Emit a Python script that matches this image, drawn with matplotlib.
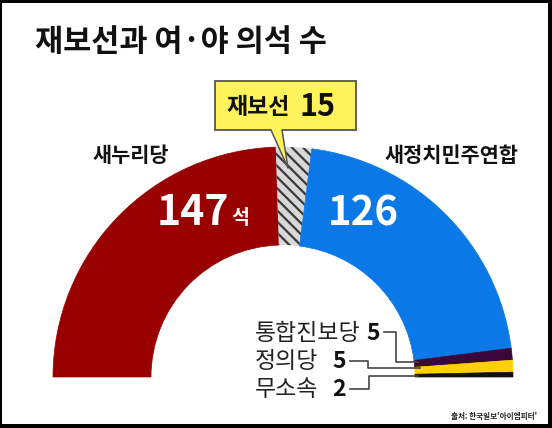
import matplotlib.pyplot as plt
from matplotlib.patches import Wedge, Rectangle, Polygon
import matplotlib as mpl

plt.rcParams['font.family'] = ['Noto Sans CJK KR', 'DejaVu Sans']
mpl.rcParams['hatch.linewidth'] = 1.6
mpl.rcParams['hatch.color'] = '#3a3a3a'

# data
parties = ["새누리당", "재보선", "새정치민주연합", "통합진보당", "정의당", "무소속"]
seats = [147, 15, 126, 5, 5, 2]
colors = ["#990000", "#d8d8d8", "#0a78e6", "#3a0838", "#ffd000", "#111111"]

W, H = 552, 428
fig = plt.figure(figsize=(W / 100, H / 100), dpi=100, facecolor="black")
ax = fig.add_axes([0, 0, 1, 1])
ax.set_xlim(0, W)
ax.set_ylim(0, H)
ax.axis("off")

def Y(y):
    # image row -> data y
    return H - y

ax.add_patch(Rectangle((2, Y(424)), 546, 421, facecolor="white", edgecolor="none"))

# half donut
cx, cy = 283, Y(377)
R, width = 230, 98
total = sum(seats)
start = 180.0
for name, s, c in zip(parties, seats, colors):
    span = 180.0 * s / total
    if name == "재보선":
        w = Wedge((cx, cy), R, start - span, start, width=width,
                  facecolor=c, edgecolor="#3a3a3a", hatch="\\\\\\", linewidth=0)
    else:
        w = Wedge((cx, cy), R, start - span, start, width=width,
                  facecolor=c, edgecolor=c, linewidth=0.5)
    ax.add_patch(w)
    start -= span

# title
ax.text(35, Y(42), "재보선과 여·야 의석 수", fontsize=22, fontweight="heavy",
        ha="left", va="center", color="#111111")

# callout box
ax.add_patch(Rectangle((215, Y(130)), 141, 49, facecolor="#fff35c",
                       edgecolor="#555555", linewidth=1.3, zorder=5))
ptr = [(271, Y(129)), (282, Y(129)), (288, Y(168))]
ax.add_patch(Polygon(ptr, closed=True, facecolor="#fff35c", edgecolor="none", zorder=6))
ax.plot([271, 288, 282], [Y(130), Y(168), Y(130)], color="#555555", lw=1.1, zorder=7)
ax.text(226, Y(107), "재보선", fontsize=16.5, fontweight="bold", ha="left",
        va="center", color="#111111", zorder=8)
ax.text(299, Y(107), str(seats[1]), fontsize=22, fontweight="bold", ha="left",
        va="center", color="#111111", zorder=8)

# party names on top
ax.text(131, Y(155), parties[0], fontsize=15, fontweight="bold", ha="center",
        va="center", color="#111111")
ax.text(451, Y(155), parties[2], fontsize=15, fontweight="bold", ha="center",
        va="center", color="#111111")

# big numbers
ax.text(229, Y(225), str(seats[0]), fontsize=29.5, fontweight="bold", ha="right",
        va="baseline", color="white")
ax.text(231, Y(224), "석", fontsize=14, fontweight="bold", ha="left",
        va="baseline", color="white")
ax.text(328, Y(225), str(seats[2]), fontsize=29, fontweight="bold", ha="left",
        va="baseline", color="white")

# small parties labels
small = [(parties[3], seats[3], 333, 366), (parties[4], seats[4], 362, 332),
         (parties[5], seats[5], 389, 332)]
for name, s, yy, xn in small:
    ax.text(255, Y(yy), name, fontsize=16.5, ha="left", va="center", color="#222222")
    ax.text(xn, Y(yy), str(s), fontsize=16.5, fontweight="bold", ha="left",
            va="center", color="#111111")

lc = "#444444"
ax.plot([384, 396, 396, 418], [Y(332), Y(332), Y(362), Y(362)], color=lc, lw=1.2)
ax.plot([350, 368, 368, 420], [Y(361), Y(361), Y(368), Y(368)], color=lc, lw=1.2)
ax.plot([350, 369, 369, 418], [Y(389), Y(389), Y(376), Y(376)], color=lc, lw=1.2)

# source
ax.text(537, Y(416), "출처: 한국일보'아이엠피터'", fontsize=5.5, fontweight="bold",
        ha="right", va="center", color="#222222")

fig.savefig("out.png", dpi=100, facecolor=fig.get_facecolor())
